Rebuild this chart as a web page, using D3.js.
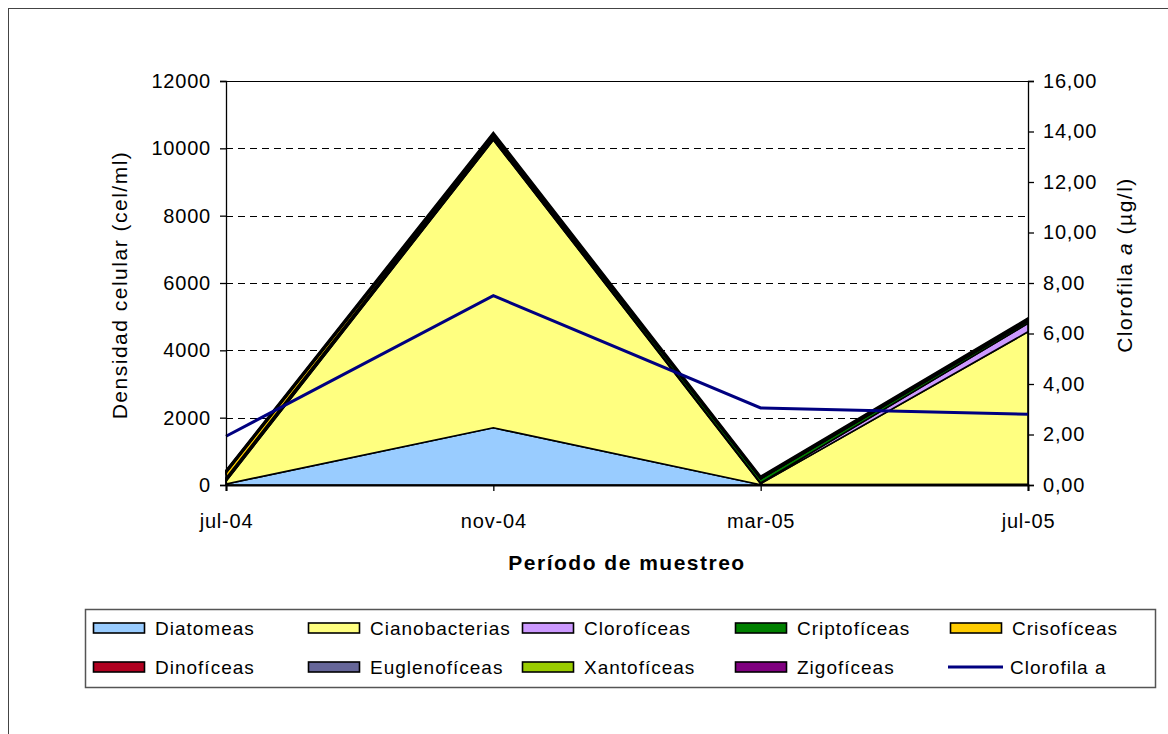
<!DOCTYPE html>
<html><head><meta charset="utf-8">
<script src="https://cdn.jsdelivr.net/npm/d3@7"></script>
<style>
body{margin:0;background:#fff;}
svg text{font-family:"Liberation Sans",Arial,sans-serif;fill:#000;}
</style></head>
<body><svg id="c" width="1168" height="734"></svg>
<script>
const categories = ["jul-04","nov-04","mar-05","jul-05"];
const seriesNames = ["Diatomeas","Cianobacterias","Clorofíceas","Criptofíceas","Crisofíceas","Dinofíceas","Euglenofíceas","Xantofíceas","Zigofíceas"];
const diatomeas      = [30, 1700, 10, 20];
const cianobacterias = [80, 8550, 30, 4530];
const clorofic       = [40, 50, 20, 250];
const criptofic      = [60, 60, 120, 60];
const crisofic       = [150, 30, 10, 20];
const dinofic        = [30, 20, 20, 20];
const euglenofic     = [20, 20, 10, 10];
const xantofic       = [10, 10, 10, 10];
const zigofic        = [20, 40, 30, 40];
const clorofilaA     = [1.93, 7.5, 3.05, 2.8];
const leftTicks  = [0,2000,4000,6000,8000,10000,12000];
const rightTicks = [0,2,4,6,8,10,12,14,16];
const colors = ["#99CCFF","#FFFF80","#CC99FF","#008000","#FFCC00","#B00020","#666699","#99CC00","#800080"];

const seriesVals = [diatomeas,cianobacterias,clorofic,criptofic,crisofic,dinofic,euglenofic,xantofic,zigofic];
const rows = categories.map((c,i)=>{const o={cat:c}; seriesNames.forEach((s,j)=>o[s]=seriesVals[j][i]); return o;});

const svg = d3.select("#c");
const L=226,R=1028,T=81,B=485;
const x = d3.scalePoint().domain(categories).range([L,R]);
const y = d3.scaleLinear().domain([0,12000]).range([B,T]);
const y2 = d3.scaleLinear().domain([0,16]).range([B,T]);

// outer frame
svg.append("rect").attr("x",8.5).attr("y",8.5).attr("width",1200).attr("height",800)
  .attr("fill","none").attr("stroke","#444").attr("stroke-width",1);

// gridlines
svg.append("g").selectAll("line").data(leftTicks.filter(v=>v>0&&v<12000)).join("line")
  .attr("x1",L).attr("x2",R).attr("y1",d=>Math.round(y(d))+0.5).attr("y2",d=>Math.round(y(d))+0.5)
  .attr("stroke","#000").attr("stroke-dasharray","7,5").attr("stroke-width",1);

// stacked areas
const stack = d3.stack().keys(seriesNames)(rows);
const area = d3.area().x((d,i)=>x(categories[i])).y0(d=>y(d[0])).y1(d=>y(d[1]));
svg.append("g").selectAll("path").data(stack).join("path")
  .attr("d",area).attr("fill",(d,i)=>colors[i]).attr("stroke","#000").attr("stroke-width",1.6)
  .attr("stroke-linejoin","miter");

// top border of plot
svg.append("line").attr("x1",L).attr("x2",R).attr("y1",T+0.5).attr("y2",T+0.5).attr("stroke","#000");

// clorofila line
const line = d3.line().x((d,i)=>x(categories[i])).y(d=>y2(d));
svg.append("path").datum(clorofilaA).attr("d",line).attr("fill","none")
  .attr("stroke","#000080").attr("stroke-width",3);

// axes
const fs = "20px";
const ax = svg.append("g").attr("transform",`translate(${L},0)`)
  .call(d3.axisLeft(y).tickValues(leftTicks).tickFormat(d3.format("d")).tickSize(6).tickPadding(9));
const ax2 = svg.append("g").attr("transform",`translate(${R},0)`)
  .call(d3.axisRight(y2).tickValues(rightTicks).tickFormat(d=>d3.format(".2f")(d).replace(".",",")).tickSize(6).tickPadding(9));
const ax3 = svg.append("g").attr("transform",`translate(0,${B})`)
  .call(d3.axisBottom(x).tickSize(6).tickPadding(23));
[ax,ax2,ax3].forEach(g=>{
  g.selectAll("text").style("font-size",fs).style("font-family","Liberation Sans, Arial, sans-serif")
    .style("letter-spacing","0.8px");
  g.selectAll("path.domain,line").attr("stroke","#000").attr("stroke-width",1.3);
});
ax3.select("path.domain").attr("stroke-width",2);

// axis titles
svg.append("text").attr("transform","translate(127,285) rotate(-90)").attr("text-anchor","middle")
  .style("font-size","21px").style("letter-spacing","1.5px").text("Densidad celular (cel/ml)");
const rt = svg.append("text").attr("transform","translate(1132,265) rotate(-90)").attr("text-anchor","middle")
  .style("font-size","21px").style("letter-spacing","1.5px");
rt.append("tspan").text("Clorofila ");
rt.append("tspan").style("font-style","italic").text("a");
rt.append("tspan").text("  (µg/l)");
svg.append("text").attr("x",627).attr("y",570).attr("text-anchor","middle")
  .style("font-size","21px").style("font-weight","bold").style("letter-spacing","1.5px").text("Período de muestreo");

// legend
svg.append("rect").attr("x",85.5).attr("y",609.5).attr("width",1070).attr("height",78)
  .attr("fill","#fff").attr("stroke","#555").attr("stroke-width",1.5);
const legItems = seriesNames.map((s,i)=>({name:s,color:colors[i],type:"area"}))
  .concat([{name:"Clorofila a",color:"#000080",type:"line"}]);
const colX = [93,308,522,735,950], rowY=[628,667];
const lg = svg.append("g").selectAll("g").data(legItems).join("g")
  .attr("transform",(d,i)=>`translate(${colX[i%5]},${rowY[Math.floor(i/5)]})`);
lg.filter(d=>d.type==="area").append("rect").attr("x",0.5).attr("y",-5).attr("width",51).attr("height",10)
  .attr("fill",d=>d.color).attr("stroke","#000").attr("stroke-width",1.6);
lg.filter(d=>d.type==="line").append("line").attr("x1",-2).attr("x2",53).attr("y1",0).attr("y2",0)
  .attr("stroke",d=>d.color).attr("stroke-width",3);
lg.append("text").attr("x",d=>d.type==="line"?60:62).attr("y",0).attr("dy","0.35em")
  .style("font-size","19px").style("letter-spacing","1px").text(d=>d.name);
</script></body></html>
